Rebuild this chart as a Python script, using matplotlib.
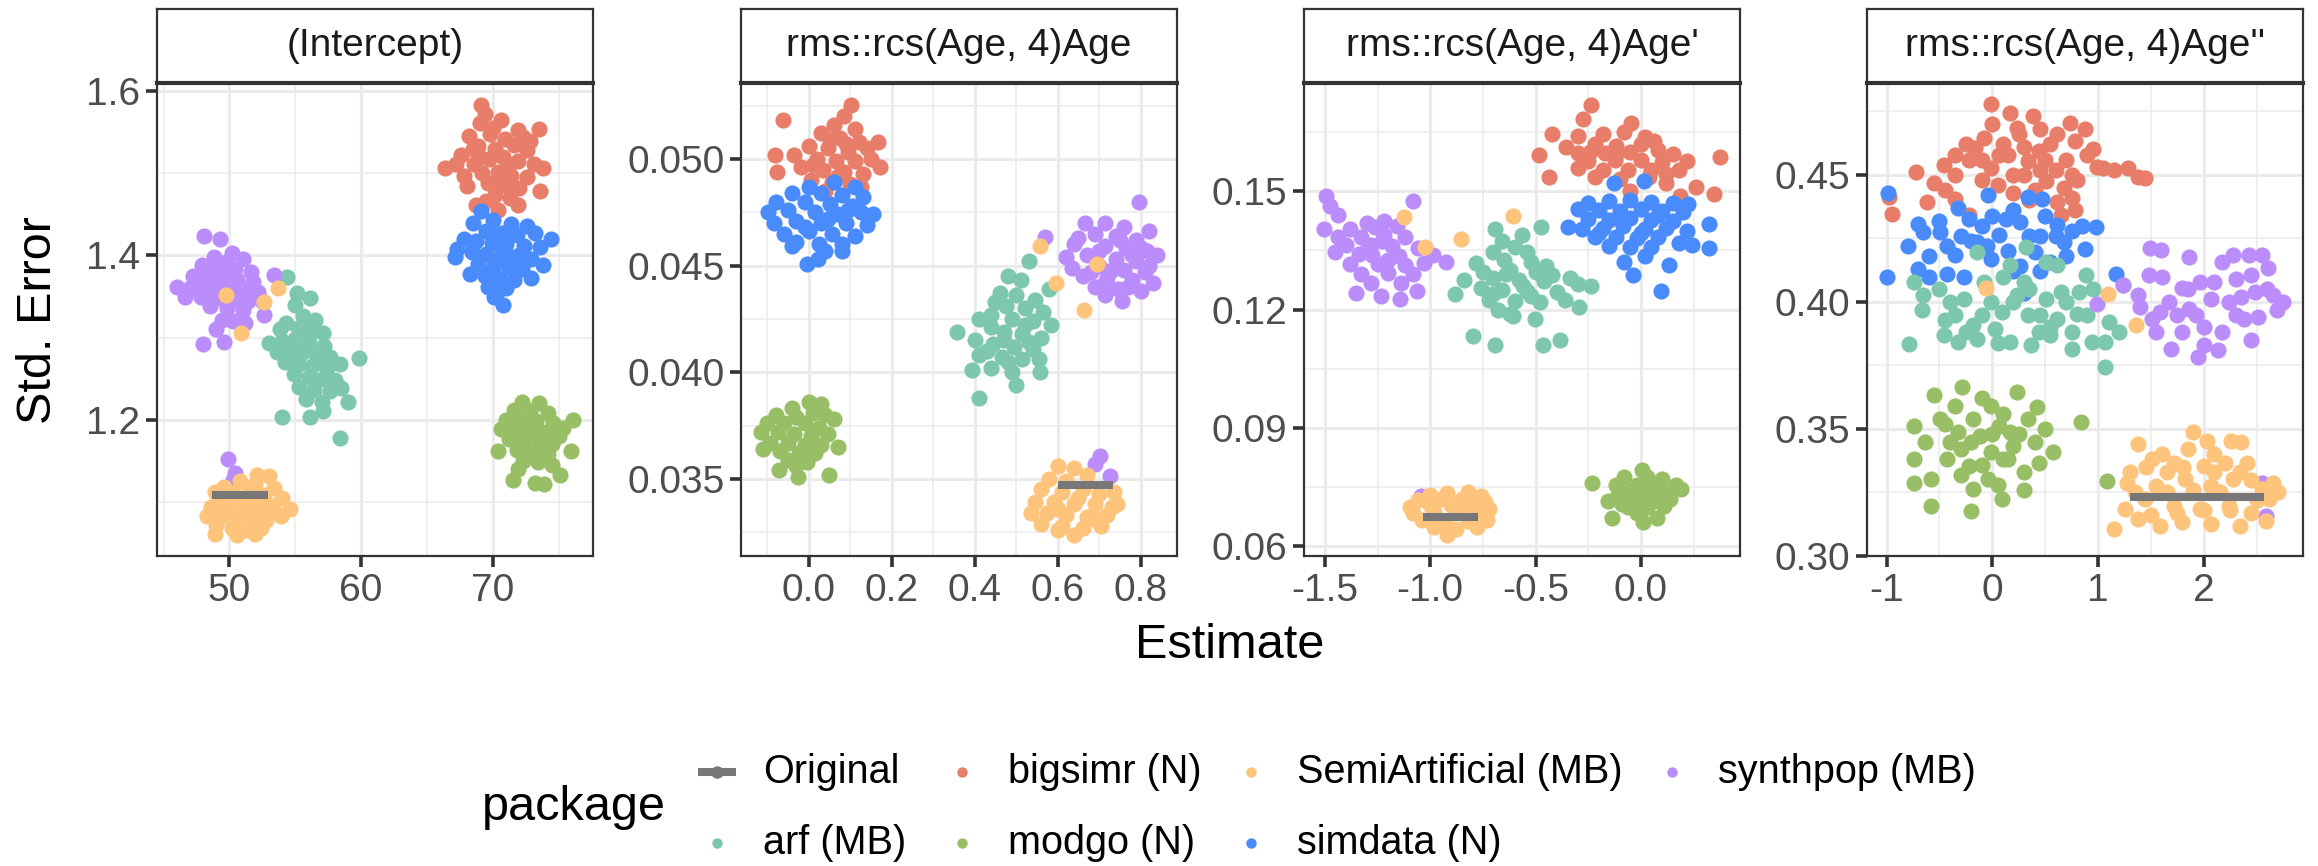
from pathlib import Path
import numpy as np
import matplotlib
matplotlib.use("Agg")
import matplotlib.pyplot as plt
from matplotlib.ticker import MultipleLocator

plt.rcParams["font.family"] = ["Liberation Sans", "DejaVu Sans"]
plt.rcParams["axes.unicode_minus"] = False

# ---- data -----------------------------------------------------------------
TERMS = ["(Intercept)", "rms::rcs(Age, 4)Age", "rms::rcs(Age, 4)Age'", "rms::rcs(Age, 4)Age''"]
PACKAGES = ["Original", "arf (MB)", "bigsimr (N)", "modgo (N)",
            "SemiArtificial (MB)", "simdata (N)", "synthpop (MB)"]

# original-data estimate interval (x from..to) at its std. error
ORIG_LO = [48.7, 0.601, -1.034, 1.304]
ORIG_HI = [52.9, 0.734, -0.772, 2.567]
ORIG_SE = [1.108, 0.03469, 0.0675, 0.3233]

X_TICKS = [[50, 60, 70], [0.0, 0.2, 0.4, 0.6, 0.8], [-1.5, -1.0, -0.5, 0.0], [-1, 0, 1, 2]]
X_TICKLABELS = [["50", "60", "70"], ["0.0", "0.2", "0.4", "0.6", "0.8"],
                ["-1.5", "-1.0", "-0.5", "0.0"], ["-1", "0", "1", "2"]]
Y_TICKS = [[1.2, 1.4, 1.6], [0.035, 0.040, 0.045, 0.050], [0.06, 0.09, 0.12, 0.15],
           [0.30, 0.35, 0.40, 0.45]]
Y_TICKLABELS = [["1.2", "1.4", "1.6"], ["0.035", "0.040", "0.045", "0.050"],
                ["0.06", "0.09", "0.12", "0.15"], ["0.30", "0.35", "0.40", "0.45"]]

# (Intercept)
int_bigsimr = [(69.1, 1.584), (69.4, 1.572), (69.0, 1.562), (70.6, 1.565), (71.9, 1.553), (73.5, 1.554),
               (72.3, 1.545), (68.2, 1.546), (69.8, 1.548), (70.9, 1.542), (71.6, 1.535), (68.9, 1.533),
               (70.2, 1.53), (72.6, 1.528), (67.6, 1.522), (66.4, 1.507), (67.2, 1.512), (68.6, 1.512),
               (69.7, 1.518), (70.8, 1.52), (71.9, 1.515), (73.8, 1.507), (73.1, 1.512), (69.2, 1.5),
               (70.4, 1.502), (71.4, 1.497), (72.6, 1.496), (67.8, 1.497), (68.0, 1.485), (69.6, 1.488),
               (70.9, 1.486), (72.0, 1.482), (73.6, 1.479), (70.2, 1.474), (71.3, 1.47), (69.5, 1.466),
               (68.7, 1.462), (70.4, 1.455), (71.9, 1.462), (70.0, 1.555), (71.2, 1.51), (69.0, 1.52),
               (72.8, 1.54), (70.5, 1.49), (68.5, 1.53)]
int_simdata = [(69.1, 1.454), (68.5, 1.44), (70.0, 1.443), (71.4, 1.438), (72.6, 1.436), (69.5, 1.43),
               (70.7, 1.428), (71.8, 1.425), (73.2, 1.428), (74.4, 1.42), (67.8, 1.42), (68.7, 1.418),
               (69.9, 1.415), (71.0, 1.414), (72.4, 1.412), (73.6, 1.41), (67.1, 1.398), (67.3, 1.408),
               (68.4, 1.404), (69.5, 1.402), (70.6, 1.4), (71.6, 1.398), (72.9, 1.396), (68.9, 1.39),
               (70.1, 1.388), (71.2, 1.385), (72.2, 1.384), (73.8, 1.388), (68.3, 1.378), (69.4, 1.375),
               (70.5, 1.372), (71.6, 1.37), (72.9, 1.373), (69.6, 1.362), (70.3, 1.356), (71.0, 1.36),
               (70.8, 1.34), (70.1, 1.35), (70.2, 1.425), (71.1, 1.395), (69.8, 1.38), (72.0, 1.4)]
int_modgo = [(72.2, 1.222), (73.5, 1.22), (71.6, 1.212), (72.8, 1.21), (74.2, 1.208), (71.0, 1.2),
             (72.1, 1.2), (73.3, 1.198), (74.6, 1.196), (76.1, 1.2), (75.3, 1.19), (70.6, 1.188),
             (71.7, 1.188), (72.8, 1.186), (74.0, 1.185), (75.0, 1.18), (71.2, 1.176), (72.4, 1.175),
             (73.5, 1.174), (74.5, 1.17), (70.4, 1.162), (71.8, 1.163), (73.0, 1.16), (74.2, 1.158),
             (75.9, 1.162), (72.3, 1.15), (73.4, 1.148), (74.5, 1.145), (71.9, 1.14), (71.5, 1.127),
             (73.2, 1.123), (73.9, 1.121), (75.1, 1.133), (73.0, 1.192), (73.8, 1.165)]
int_arf = [(54.4, 1.374), (55.1, 1.354), (56.1, 1.348), (55.0, 1.34), (55.6, 1.326), (56.5, 1.322),
           (54.3, 1.318), (53.8, 1.311), (55.2, 1.312), (56.3, 1.308), (57.1, 1.305), (53.0, 1.293),
           (54.0, 1.296), (55.0, 1.298), (56.0, 1.295), (57.2, 1.29), (53.6, 1.282), (54.6, 1.283),
           (55.6, 1.282), (56.6, 1.28), (57.6, 1.276), (59.8, 1.275), (54.2, 1.27), (55.3, 1.268),
           (56.3, 1.265), (57.4, 1.263), (58.4, 1.268), (54.9, 1.255), (56.0, 1.252), (57.0, 1.25),
           (58.0, 1.248), (55.3, 1.24), (56.4, 1.236), (57.6, 1.235), (58.5, 1.238), (55.8, 1.225),
           (57.0, 1.222), (59.0, 1.221), (54.0, 1.203), (56.1, 1.203), (57.1, 1.211), (58.4, 1.177),
           (55.5, 1.29), (56.8, 1.27), (55.8, 1.31)]
int_synthpop = [(48.1, 1.424), (49.3, 1.42), (50.2, 1.403), (48.8, 1.398), (49.7, 1.392), (51.0, 1.396),
                (47.9, 1.388), (48.9, 1.385), (50.4, 1.384), (51.6, 1.38), (47.2, 1.375), (48.3, 1.374),
                (49.4, 1.372), (50.6, 1.37), (51.8, 1.368), (53.4, 1.376), (46.0, 1.362), (47.0, 1.36),
                (48.0, 1.362), (49.0, 1.36), (50.0, 1.364), (51.1, 1.358), (52.2, 1.356), (46.6, 1.35),
                (47.8, 1.35), (49.2, 1.348), (50.4, 1.347), (51.4, 1.344), (52.5, 1.345), (48.5, 1.338),
                (49.8, 1.336), (51.0, 1.333), (52.6, 1.328), (49.4, 1.322), (50.3, 1.32), (51.2, 1.318),
                (49.0, 1.31), (48.0, 1.292), (49.6, 1.294), (49.9, 1.152), (50.4, 1.135), (50.3, 1.127),
                (50.0, 1.378), (48.6, 1.355), (50.8, 1.352)]
int_semi = [(49.7, 1.352), (53.7, 1.36), (52.6, 1.343), (50.9, 1.306), (52.1, 1.133), (53.0, 1.131),
            (50.8, 1.125), (51.9, 1.122), (49.6, 1.118), (53.4, 1.117), (48.9, 1.112), (50.3, 1.11),
            (51.4, 1.109), (52.6, 1.108), (54.0, 1.104), (49.5, 1.1), (50.7, 1.098), (51.8, 1.097),
            (53.0, 1.096), (48.6, 1.093), (49.8, 1.09), (51.0, 1.088), (52.2, 1.088), (53.4, 1.089),
            (54.6, 1.091), (48.3, 1.083), (49.3, 1.081), (50.4, 1.078), (51.6, 1.077), (52.8, 1.078),
            (53.9, 1.082), (49.0, 1.071), (50.2, 1.068), (51.2, 1.066), (52.4, 1.068), (48.9, 1.061),
            (51.9, 1.061), (50.6, 1.06)]

# rms::rcs(Age, 4)Age
age_bigsimr = [(0.101, 0.05255), (0.085, 0.0520), (0.060, 0.0516), (0.110, 0.0514), (-0.063, 0.0518),
               (0.030, 0.0512), (0.075, 0.0510), (0.120, 0.0508), (0.167, 0.0508), (0.140, 0.0505),
               (0.000, 0.0506), (0.045, 0.0505), (0.095, 0.0503), (-0.081, 0.0502), (-0.035, 0.0502),
               (0.020, 0.0500), (0.065, 0.0499), (0.110, 0.0499), (0.150, 0.0500), (0.172, 0.0496),
               (-0.076, 0.0494), (-0.020, 0.0496), (0.035, 0.0495), (0.085, 0.0494), (0.130, 0.0493),
               (0.005, 0.0490), (0.055, 0.0489), (0.100, 0.0488), (0.040, 0.0485), (0.125, 0.0487),
               (0.050, 0.0509), (0.090, 0.0507), (0.010, 0.0497), (0.070, 0.0492)]
age_simdata = [(0.060, 0.0489), (0.000, 0.0487), (0.110, 0.0487), (-0.040, 0.0484), (0.030, 0.0484),
               (0.080, 0.0483), (0.130, 0.0482), (-0.080, 0.0480), (-0.010, 0.0480), (0.050, 0.0479),
               (0.105, 0.0478), (-0.098, 0.0475), (-0.050, 0.0476), (0.015, 0.0475), (0.070, 0.0474),
               (0.125, 0.0475), (0.154, 0.0474), (-0.085, 0.0470), (-0.030, 0.0471), (0.030, 0.0470),
               (0.090, 0.0470), (0.140, 0.0469), (-0.060, 0.0465), (0.000, 0.0466), (0.055, 0.0465),
               (0.110, 0.0464), (-0.030, 0.0461), (0.025, 0.0460), (0.080, 0.0460), (0.040, 0.0457),
               (0.079, 0.0457), (-0.005, 0.04505), (0.021, 0.0453), (-0.040, 0.0459), (0.045, 0.0472),
               (0.095, 0.0476), (-0.010, 0.0468)]
age_modgo = [(0.000, 0.0386), (0.030, 0.0385), (-0.040, 0.0383), (0.010, 0.0381), (-0.080, 0.0380),
             (-0.030, 0.0379), (0.040, 0.0380), (0.061, 0.0378), (-0.100, 0.0376), (-0.060, 0.0376),
             (-0.010, 0.0376), (0.025, 0.0374), (-0.116, 0.0372), (-0.075, 0.0372), (-0.035, 0.0371),
             (0.005, 0.0370), (0.045, 0.0371), (-0.095, 0.0367), (-0.050, 0.0367), (-0.010, 0.0366),
             (0.030, 0.0366), (0.070, 0.0365), (-0.110, 0.0364), (-0.070, 0.0363), (-0.025, 0.0362),
             (0.015, 0.0362), (-0.050, 0.0359), (-0.005, 0.0358), (-0.030, 0.0356), (-0.072, 0.0354),
             (-0.027, 0.0351), (0.048, 0.0352)]
age_arf = [(0.530, 0.0452), (0.481, 0.0445), (0.512, 0.0443), (0.579, 0.0439), (0.460, 0.0437),
           (0.500, 0.0436), (0.545, 0.0434), (0.475, 0.0431), (0.520, 0.0430), (0.565, 0.0428),
           (0.440, 0.0427), (0.410, 0.0425), (0.490, 0.0425), (0.540, 0.0424), (0.583, 0.0422),
           (0.440, 0.0421), (0.357, 0.0419), (0.470, 0.0419), (0.515, 0.0418), (0.560, 0.0416),
           (0.400, 0.0415), (0.445, 0.0413), (0.495, 0.0412), (0.540, 0.0411), (0.410, 0.0408),
           (0.465, 0.0407), (0.515, 0.0406), (0.555, 0.0406), (0.393, 0.0401), (0.440, 0.0402),
           (0.490, 0.0400), (0.557, 0.0400), (0.499, 0.0394), (0.411, 0.0388), (0.450, 0.0433),
           (0.470, 0.0415), (0.530, 0.0414), (0.430, 0.0410), (0.520, 0.0422), (0.480, 0.0405)]
age_synthpop = [(0.796, 0.0480), (0.667, 0.0470), (0.715, 0.0470), (0.760, 0.0468), (0.820, 0.0466),
                (0.690, 0.0465), (0.740, 0.0464), (0.790, 0.0462), (0.640, 0.0460), (0.570, 0.04636),
                (0.715, 0.0459), (0.765, 0.0458), (0.815, 0.0457), (0.840, 0.0455), (0.620, 0.0454),
                (0.670, 0.0455), (0.740, 0.0453), (0.790, 0.0452), (0.700, 0.0450), (0.635, 0.0449),
                (0.760, 0.0448), (0.810, 0.0447), (0.660, 0.0445), (0.720, 0.0444), (0.780, 0.0443),
                (0.830, 0.0442), (0.690, 0.0440), (0.745, 0.0439), (0.800, 0.0438), (0.756, 0.04334),
                (0.715, 0.0436), (0.650, 0.0463), (0.700, 0.0457), (0.750, 0.0462), (0.800, 0.0458),
                (0.680, 0.0447), (0.730, 0.0448), (0.780, 0.0455), (0.820, 0.0450), (0.770, 0.0440),
                (0.710, 0.0441), (0.703, 0.03607), (0.689, 0.03569), (0.725, 0.03515)]
age_semi = [(0.557, 0.0459), (0.596, 0.0442), (0.663, 0.0429), (0.694, 0.04505), (0.600, 0.0356),
            (0.640, 0.0355), (0.670, 0.0352), (0.580, 0.0350), (0.620, 0.0349), (0.560, 0.0345),
            (0.610, 0.0344), (0.660, 0.0345), (0.700, 0.0343), (0.735, 0.0344), (0.545, 0.0339),
            (0.590, 0.0339), (0.640, 0.0338), (0.690, 0.0338), (0.730, 0.0337), (0.535, 0.0334),
            (0.575, 0.0334), (0.620, 0.0333), (0.670, 0.0332), (0.720, 0.0333), (0.742, 0.0338),
            (0.560, 0.0329), (0.610, 0.0328), (0.660, 0.0327), (0.705, 0.0328), (0.640, 0.03239),
            (0.600, 0.0326), (0.650, 0.0341), (0.690, 0.0331), (0.600, 0.0336)]

# rms::rcs(Age, 4)Age'
age1_bigsimr = [(-0.239, 0.172), (-0.275, 0.1682), (-0.049, 0.1674), (-0.42, 0.1645), (-0.30, 0.1640),
                (-0.18, 0.1645), (-0.08, 0.1650), (0.02, 0.1638), (-0.356, 0.1612), (-0.22, 0.1620),
                (-0.12, 0.1615), (0.06, 0.1628), (-0.483, 0.1591), (-0.30, 0.1598), (-0.17, 0.1598),
                (-0.05, 0.1600), (0.15, 0.1595), (0.08, 0.1605), (0.376, 0.1587), (-0.25, 0.1578),
                (-0.121, 0.1579), (0.0, 0.1580), (0.10, 0.1575), (0.22, 0.1578), (-0.438, 0.1537),
                (-0.30, 0.1560), (-0.18, 0.1555), (-0.06, 0.1555), (0.05, 0.1555), (0.18, 0.1555),
                (-0.22, 0.1535), (-0.10, 0.1530), (0.04, 0.1535), (0.12, 0.1520), (0.186, 0.1488),
                (0.349, 0.1492), (-0.05, 0.1500), (0.26, 0.1510), (-0.12, 0.1595), (0.0, 0.1620),
                (0.12, 0.1545), (-0.24, 0.1600)]
age1_simdata = [(-0.13, 0.1521), (0.014, 0.1525), (0.222, 0.1467), (-0.25, 0.1470), (-0.15, 0.1475),
                (-0.05, 0.1478), (0.05, 0.1472), (0.15, 0.1470), (-0.30, 0.1455), (-0.20, 0.1452),
                (-0.10, 0.1450), (0.00, 0.1455), (0.10, 0.1450), (0.20, 0.1448), (-0.347, 0.1409),
                (-0.25, 0.1430), (-0.15, 0.1428), (-0.05, 0.1432), (0.05, 0.1428), (0.15, 0.1425),
                (0.322, 0.1417), (-0.28, 0.1405), (-0.18, 0.1408), (-0.085, 0.1413), (0.02, 0.1405),
                (0.12, 0.1408), (0.22, 0.1400), (-0.22, 0.1385), (-0.12, 0.1385), (-0.02, 0.1382),
                (0.08, 0.1385), (0.241, 0.1363), (0.322, 0.1355), (0.18, 0.1368), (-0.15, 0.1362),
                (-0.05, 0.1360), (0.05, 0.1358), (0.132, 0.1314), (-0.04, 0.1289), (-0.08, 0.1320),
                (0.02, 0.1335), (0.096, 0.1247), (-0.10, 0.1440), (0.08, 0.1440), (-0.20, 0.1395),
                (0.00, 0.1395)]
age1_modgo = [(-0.23, 0.0760), (0.005, 0.0793), (-0.08, 0.0775), (0.03, 0.0775), (0.10, 0.0770),
              (0.168, 0.0756), (-0.12, 0.0755), (-0.02, 0.0755), (0.08, 0.0752), (0.19, 0.0745),
              (-0.157, 0.0714), (-0.08, 0.0735), (0.02, 0.0732), (0.12, 0.0735), (-0.12, 0.0722),
              (-0.03, 0.0718), (0.06, 0.0716), (0.14, 0.0720), (-0.06, 0.0700), (0.03, 0.0700),
              (0.11, 0.0702), (-0.139, 0.0673), (-0.02, 0.0685), (0.078, 0.0673), (0.01, 0.0662),
              (-0.04, 0.0745), (0.05, 0.0742), (-0.09, 0.0708)]
age1_arf = [(-0.691, 0.1405), (-0.474, 0.1409), (-0.564, 0.1388), (-0.66, 0.1375), (-0.60, 0.1360),
            (-0.70, 0.1345), (-0.54, 0.1345), (-0.781, 0.1318), (-0.65, 0.1325), (-0.52, 0.1320),
            (-0.45, 0.1310), (-0.75, 0.1295), (-0.62, 0.1300), (-0.50, 0.1295), (-0.42, 0.1289),
            (-0.338, 0.1280), (-0.84, 0.1275), (-0.70, 0.1280), (-0.58, 0.1275), (-0.46, 0.1272),
            (-0.30, 0.1265), (-0.239, 0.1260), (-0.881, 0.1239), (-0.76, 0.1255), (-0.66, 0.1250),
            (-0.54, 0.1248), (-0.40, 0.1245), (-0.293, 0.1206), (-0.72, 0.1225), (-0.60, 0.1222),
            (-0.48, 0.1220), (-0.36, 0.1225), (-0.68, 0.1200), (-0.62, 0.1190), (-0.501, 0.1177),
            (-0.609, 0.1185), (-0.799, 0.1132), (-0.691, 0.1111), (-0.465, 0.1111), (-0.383, 0.1124),
            (-0.64, 0.1290), (-0.56, 0.1260), (-0.70, 0.1240), (-0.52, 0.1235)]
age1_synthpop = [(-1.495, 0.1488), (-1.477, 0.1463), (-1.08, 0.1475), (-1.44, 0.1440), (-1.30, 0.1420),
                 (-1.22, 0.1425), (-1.505, 0.1405), (-1.38, 0.1405), (-1.26, 0.1410), (-1.16, 0.1412),
                 (-1.44, 0.1385), (-1.33, 0.1385), (-1.22, 0.1390), (-1.12, 0.1385), (-1.40, 0.1365),
                 (-1.28, 0.1365), (-1.18, 0.1362), (-1.06, 0.1355), (-0.989, 0.1338), (-0.926, 0.1322),
                 (-1.45, 0.1345), (-1.34, 0.1340), (-1.278, 0.1338), (-1.15, 0.1335), (-1.38, 0.1315),
                 (-1.25, 0.1315), (-1.12, 0.1312), (-1.03, 0.1318), (-1.33, 0.1290), (-1.20, 0.1292),
                 (-1.08, 0.1290), (-1.28, 0.1268), (-1.14, 0.1268), (-1.351, 0.1243), (-1.233, 0.1235),
                 (-1.143, 0.1227), (-1.061, 0.1247), (-1.23, 0.1375), (-1.30, 0.1350), (-1.20, 0.1325),
                 (-1.043, 0.0727)]
age1_semi = [(-1.125, 0.1434), (-1.025, 0.1359), (-0.854, 0.1380), (-0.609, 0.1438), (-0.82, 0.0739),
             (-0.92, 0.0735), (-1.00, 0.0730), (-0.76, 0.0728), (-1.06, 0.0718), (-0.95, 0.0720),
             (-0.85, 0.0720), (-0.74, 0.0712), (-1.098, 0.0700), (-1.00, 0.0705), (-0.90, 0.0706),
             (-0.80, 0.0704), (-0.72, 0.0695), (-1.08, 0.0685), (-0.98, 0.0688), (-0.86, 0.0690),
             (-0.76, 0.0680), (-1.04, 0.0668), (-0.93, 0.0665), (-0.82, 0.0664), (-0.73, 0.0666),
             (-0.98, 0.0648), (-0.88, 0.0645), (-0.78, 0.0648), (-0.92, 0.0630)]

# rms::rcs(Age, 4)Age''
age2_bigsimr = [(-0.01, 0.4778), (0.163, 0.4745), (0.388, 0.4731), (0.734, 0.4705), (0.872, 0.4679),
                (0.785, 0.4632), (0.612, 0.4659), (0.232, 0.4685), (-0.08, 0.4646), (-0.166, 0.4606),
                (-0.46, 0.454), (-0.72, 0.4513), (-0.356, 0.4579), (0.059, 0.4579), (0.439, 0.4593),
                (0.993, 0.4533), (1.045, 0.4526), (1.287, 0.4526), (1.374, 0.4493), (1.443, 0.4487),
                (0.751, 0.45), (0.682, 0.4447), (0.612, 0.4394), (0.785, 0.4361), (0.647, 0.4341),
                (-0.616, 0.4394), (-0.945, 0.4348), (-0.979, 0.4414), (-0.356, 0.4407), (-0.218, 0.4341),
                (0.197, 0.45), (0.509, 0.4474), (0.336, 0.4553), (-0.01, 0.4526), (-0.218, 0.456),
                (0.10, 0.4620), (0.30, 0.4610), (0.50, 0.4560), (-0.10, 0.4480), (0.20, 0.4430),
                (0.40, 0.4440), (-0.35, 0.4500), (0.60, 0.4520), (0.90, 0.4580), (0.00, 0.4700),
                (0.25, 0.4660), (0.45, 0.4680), (-0.25, 0.4620), (0.15, 0.4580), (0.55, 0.4620),
                (0.70, 0.4560), (-0.55, 0.4470), (-0.10, 0.4560), (0.30, 0.4500), (0.05, 0.4460),
                (0.45, 0.4520), (0.80, 0.4480), (-0.45, 0.4440), (0.35, 0.4400), (0.75, 0.4410),
                (0.95, 0.4600), (1.15, 0.4520)]
age2_simdata = [(-0.986, 0.4427), (-0.997, 0.4097), (-0.045, 0.4421), (0.336, 0.4414), (0.474, 0.4407),
                (-0.322, 0.4368), (-0.702, 0.4308), (-0.651, 0.4275), (-0.495, 0.4275), (0.976, 0.4295),
                (0.872, 0.4209), (0.612, 0.4302), (0.128, 0.4328), (0.266, 0.4315), (-0.218, 0.4328),
                (-0.426, 0.4222), (-0.356, 0.4183), (-0.702, 0.413), (-0.599, 0.4097), (-0.426, 0.411),
                (-0.27, 0.4097), (1.166, 0.411), (0.301, 0.4037), (-0.01, 0.4169), (0.405, 0.4196),
                (0.682, 0.4235), (0.543, 0.4156), (-0.149, 0.4235), (0.059, 0.4262), (0.266, 0.4143),
                (-0.10, 0.4300), (0.45, 0.4260), (-0.30, 0.4260), (0.15, 0.4200), (0.75, 0.4280),
                (-0.50, 0.4320), (-0.20, 0.4240), (0.20, 0.4360), (0.50, 0.4340), (0.70, 0.4180),
                (-0.60, 0.4180), (0.00, 0.4340), (0.35, 0.4260), (-0.05, 0.4220), (0.60, 0.4260),
                (0.85, 0.4300), (-0.80, 0.4220), (0.20, 0.4120), (0.45, 0.4120)]
age2_modgo = [(-0.287, 0.3664), (-0.547, 0.3632), (0.232, 0.3645), (0.422, 0.3586), (0.837, 0.3526),
              (-0.737, 0.3513), (-0.633, 0.3447), (-0.737, 0.3382), (-0.737, 0.3289), (-0.581, 0.3303),
              (-0.581, 0.3197), (-0.201, 0.3178), (0.093, 0.3224), (-0.01, 0.3408), (0.578, 0.3408),
              (0.439, 0.3368), (0.301, 0.3329), (1.08, 0.3296), (-0.322, 0.3487), (-0.01, 0.3592),
              (-0.183, 0.354), (0.163, 0.3487), (-0.426, 0.3382), (-0.218, 0.3355), (-0.045, 0.3303),
              (0.197, 0.3434), (-0.356, 0.3592), (0.059, 0.3513), (-0.114, 0.3474), (0.336, 0.354),
              (-0.495, 0.354), (-0.183, 0.3263), (0.10, 0.3380), (-0.30, 0.3420), (0.25, 0.3480),
              (-0.40, 0.3450), (-0.20, 0.3450), (0.00, 0.3480), (0.20, 0.3480), (0.40, 0.3450),
              (-0.30, 0.3320), (-0.10, 0.3360), (0.15, 0.3380), (0.05, 0.3280), (-0.45, 0.3520),
              (0.10, 0.3560), (0.50, 0.3500), (-0.10, 0.3620), (0.30, 0.3260)]
age2_arf = [(-0.149, 0.4197), (0.318, 0.4217), (-0.737, 0.4079), (-0.651, 0.4026), (-0.668, 0.3967),
            (-0.789, 0.3836), (-0.443, 0.3928), (-0.46, 0.3868), (-0.322, 0.3842), (-0.149, 0.3855),
            (-0.27, 0.4013), (-0.01, 0.40), (0.163, 0.4145), (0.163, 0.3842), (0.37, 0.3829),
            (0.543, 0.3868), (0.751, 0.3816), (0.941, 0.3842), (1.062, 0.3842), (1.201, 0.3882),
            (1.235, 0.4066), (1.062, 0.3743), (0.803, 0.3954), (0.82, 0.4039), (0.889, 0.4105),
            (0.612, 0.4145), (0.509, 0.4013), (0.336, 0.3947), (0.093, 0.3961), (-0.183, 0.3908),
            (-0.08, 0.4079), (0.509, 0.4158), (0.232, 0.4026), (0.024, 0.3895), (0.612, 0.3934),
            (0.439, 0.3882), (0.30, 0.4080), (-0.35, 0.3950), (0.65, 0.4040), (-0.40, 0.4000),
            (-0.10, 0.3950), (0.20, 0.4000), (0.45, 0.3950), (0.70, 0.4000), (0.90, 0.3950),
            (-0.25, 0.3880), (0.05, 0.3840), (0.55, 0.3900), (0.35, 0.4050), (-0.50, 0.4050),
            (0.10, 0.4100), (0.75, 0.3880), (1.10, 0.3920), (0.95, 0.4050)]
age2_synthpop = [(1.495, 0.4211), (1.599, 0.4204), (1.858, 0.4178), (2.17, 0.4158), (2.273, 0.4184),
                 (2.429, 0.4184), (2.55, 0.4184), (2.602, 0.4132), (1.478, 0.4105), (1.374, 0.4026),
                 (0.993, 0.3993), (1.235, 0.4066), (1.512, 0.3934), (1.668, 0.40), (1.789, 0.4053),
                 (1.962, 0.4079), (2.066, 0.4013), (1.927, 0.3947), (1.789, 0.3882), (1.685, 0.3816),
                 (1.945, 0.3783), (2.135, 0.3809), (2.17, 0.3882), (2.377, 0.3934), (2.515, 0.3941),
                 (2.689, 0.3967), (2.654, 0.4026), (2.481, 0.4039), (2.308, 0.4092), (2.446, 0.4105),
                 (2.239, 0.40), (1.858, 0.3974), (1.581, 0.3961), (1.60, 0.4100), (1.75, 0.3950),
                 (2.00, 0.3900), (2.30, 0.3950), (2.45, 0.3850), (2.60, 0.4050), (1.40, 0.3980),
                 (2.10, 0.4080), (1.85, 0.4050), (2.35, 0.4020), (2.00, 0.3830), (1.55, 0.3880),
                 (2.75, 0.4000), (2.55, 0.3289), (2.585, 0.3158)]
age2_semi = [(1.097, 0.4033), (1.356, 0.3908), (-0.062, 0.4053), (1.893, 0.3487), (2.031, 0.3454),
             (2.256, 0.3454), (1.374, 0.3441), (1.512, 0.3382), (1.72, 0.3368), (1.997, 0.3355),
             (2.204, 0.3368), (2.412, 0.3368), (1.304, 0.3329), (1.27, 0.3289), (2.654, 0.3289),
             (2.62, 0.3224), (2.55, 0.3263), (1.253, 0.3184), (1.149, 0.3105), (1.374, 0.3145),
             (1.581, 0.3118), (1.789, 0.3132), (2.066, 0.3125), (2.343, 0.3118), (2.585, 0.3138),
             (1.547, 0.3276), (1.824, 0.3303), (2.066, 0.3276), (2.273, 0.3303), (1.72, 0.3197),
             (1.962, 0.3184), (2.239, 0.3197), (2.446, 0.3171), (1.443, 0.3224), (2.343, 0.3329),
             (1.651, 0.3329), (1.45, 0.3350), (1.60, 0.3400), (1.85, 0.3420), (2.10, 0.3400),
             (2.35, 0.3450), (1.35, 0.3250), (1.65, 0.3250), (1.90, 0.3260), (2.15, 0.3250),
             (2.45, 0.3300), (1.50, 0.3160), (1.75, 0.3170), (2.00, 0.3180), (2.25, 0.3180),
             (2.50, 0.3220), (2.10, 0.3330), (1.80, 0.3350), (2.70, 0.3250)]

COLORS = {
    "Original": "#777777",
    "arf (MB)": "#7DC7AF",
    "bigsimr (N)": "#E87E69",
    "modgo (N)": "#98BF66",
    "SemiArtificial (MB)": "#FEC47C",
    "simdata (N)": "#4A8BFB",
    "synthpop (MB)": "#BB8DFA",
}


def panel_points():
    """Points per facet, in drawing order."""
    return [
        [("bigsimr (N)", int_bigsimr), ("simdata (N)", int_simdata), ("modgo (N)", int_modgo),
         ("arf (MB)", int_arf), ("synthpop (MB)", int_synthpop), ("SemiArtificial (MB)", int_semi)],
        [("bigsimr (N)", age_bigsimr), ("simdata (N)", age_simdata), ("modgo (N)", age_modgo),
         ("arf (MB)", age_arf), ("synthpop (MB)", age_synthpop), ("SemiArtificial (MB)", age_semi)],
        [("bigsimr (N)", age1_bigsimr), ("simdata (N)", age1_simdata), ("modgo (N)", age1_modgo),
         ("arf (MB)", age1_arf), ("synthpop (MB)", age1_synthpop), ("SemiArtificial (MB)", age1_semi)],
        [("bigsimr (N)", age2_bigsimr), ("simdata (N)", age2_simdata), ("modgo (N)", age2_modgo),
         ("arf (MB)", age2_arf), ("synthpop (MB)", age2_synthpop), ("SemiArtificial (MB)", age2_semi)],
    ]


def expanded(vals, frac=0.05):
    lo, hi = min(vals), max(vals)
    pad = (hi - lo) * frac
    return lo - pad, hi + pad


def plot_facets(png_path=Path("out.png")):
    W, H = 2318, 866
    fig = plt.figure(figsize=(W / 100, H / 100), dpi=100)
    lefts = [157, 741, 1304, 1867]
    pw, top, bottom, strip_top = 436, 83, 556, 9
    dark = "#333333"

    for i, term in enumerate(TERMS):
        ax = fig.add_axes([lefts[i] / W, 1 - bottom / H, pw / W, (bottom - top) / H])
        groups = panel_points()[i]
        xs = [p[0] for _, pts in groups for p in pts] + [ORIG_LO[i], ORIG_HI[i]]
        ys = [p[1] for _, pts in groups for p in pts] + [ORIG_SE[i]]
        for name, pts in groups:
            arr = np.array(pts)
            ax.scatter(arr[:, 0], arr[:, 1], s=135, color=COLORS[name], linewidths=0, zorder=3)
        ax.plot([ORIG_LO[i], ORIG_HI[i]], [ORIG_SE[i], ORIG_SE[i]], color=COLORS["Original"],
                lw=5.8, solid_capstyle="butt", zorder=4)
        ax.set_xlim(*expanded(xs))
        ax.set_ylim(*expanded(ys))

        xt, yt = X_TICKS[i], Y_TICKS[i]
        ax.set_xticks(xt, X_TICKLABELS[i])
        ax.set_yticks(yt, Y_TICKLABELS[i])
        ax.xaxis.set_minor_locator(MultipleLocator((xt[1] - xt[0]) / 2))
        ax.yaxis.set_minor_locator(MultipleLocator((yt[1] - yt[0]) / 2))
        ax.grid(True, which="major", color="#EBEBEB", lw=2.2, zorder=0)
        ax.grid(True, which="minor", color="#EBEBEB", lw=1.1, zorder=0)
        ax.set_axisbelow(True)
        ax.tick_params(which="major", length=8, width=2.6, color=dark, pad=4,
                       labelsize=28, labelcolor="#4D4D4D")
        ax.tick_params(which="minor", length=0)
        for sp in ax.spines.values():
            sp.set_color(dark)
            sp.set_linewidth(1.6)

        strip = fig.add_axes([lefts[i] / W, 1 - top / H, pw / W, (top - strip_top) / H])
        strip.set_xticks([])
        strip.set_yticks([])
        for sp in strip.spines.values():
            sp.set_color(dark)
            sp.set_linewidth(1.6)
        strip.spines["bottom"].set_linewidth(3.0)
        strip.text(0.5, 0.5, term, ha="center", va="center", fontsize=28, color="#1A1A1A",
                   transform=strip.transAxes)

    fig.text(39 / W, 1 - 320 / H, "Std. Error", rotation=90, ha="center", va="center", fontsize=35)
    fig.text(1230 / W, 1 - 646 / H, "Estimate", ha="center", va="center", fontsize=35)

    # legend, laid out like ggplot's two-row bottom legend
    leg = fig.add_axes([0, 0, 1, 1])
    leg.set_xlim(0, W)
    leg.set_ylim(H, 0)
    leg.axis("off")
    leg.text(482, 808, "package", ha="left", va="center", fontsize=35)
    col_x = [717, 962, 1251, 1672]
    row_y = [772, 843]
    for k, name in enumerate(PACKAGES):
        cx, cy = col_x[k // 2], row_y[k % 2]
        if name == "Original":
            leg.plot([cx - 19, cx + 19], [cy, cy], color=COLORS[name], lw=5.8, solid_capstyle="butt")
            leg.plot([cx], [cy], "o", ms=9, color=COLORS[name], mew=0)
        else:
            leg.plot([cx], [cy], "o", ms=7.5, color=COLORS[name], mew=0)
        leg.text(cx + 46, cy, name, ha="left", va="center", fontsize=28.5)

    fig.savefig(png_path, dpi=100)
    print(f"saved {png_path}")


if __name__ == "__main__":
    plot_facets()
